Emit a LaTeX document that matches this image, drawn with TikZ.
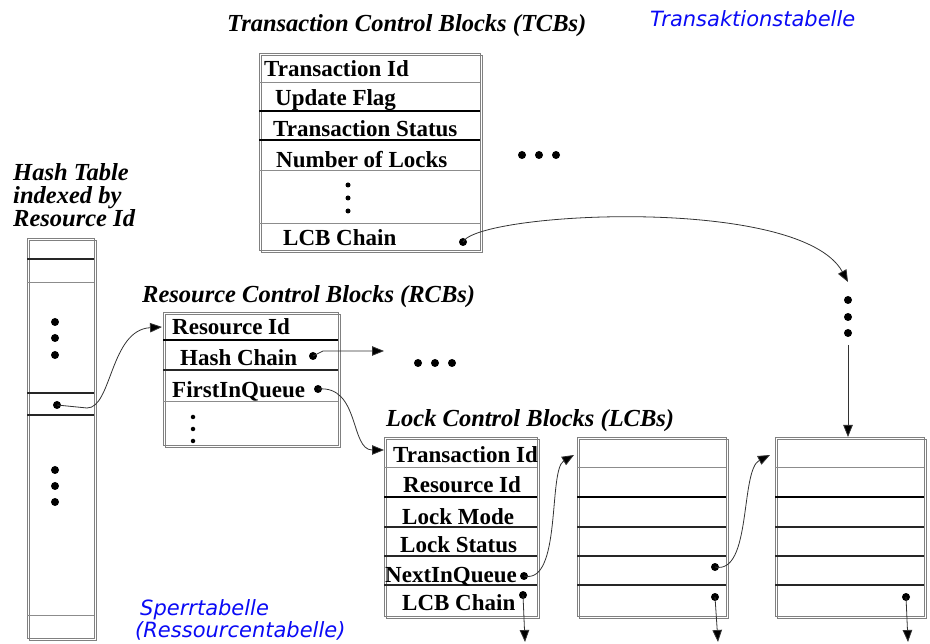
\documentclass[tikz,border=0pt]{standalone}
\usepackage{fontspec}
\setmainfont{Liberation Serif}
\newfontfamily\bluefont{DejaVu Sans}[ItalicFont={DejaVu Sans Oblique}]
\usetikzlibrary{arrows.meta}
\definecolor{noteblue}{RGB}{10,10,245}
\begin{document}
\begin{tikzpicture}[x=1pt,y=-1pt,
  blk/.style={draw=black!50, line width=0.9pt, inner sep=0pt, outer sep=0pt, anchor=north west},
  field/.style={anchor=base west, inner sep=0pt, font=\fontsize{23}{26}\selectfont\bfseries},
  heading/.style={anchor=base west, inner sep=0pt, font=\fontsize{24.5}{28}\selectfont\bfseries\itshape},
  note/.style={anchor=base west, inner sep=0pt, text=noteblue, font=\bluefont\fontsize{21}{22}\selectfont\itshape},
  ptr/.style={circle, fill=black, inner sep=0pt, minimum size=8pt},
  ell/.style={circle, fill=black, inner sep=0pt, minimum size=8pt},
  vdot/.style={circle, fill=black, inner sep=0pt, minimum size=5pt},
  link/.style={draw=black!80, line width=0.8pt, -{Triangle[length=12pt,width=9.5pt,fill=black]}},
  rowthin/.style={draw=black!45, line width=0.9pt},
  rowmid/.style={draw=black!85, line width=1.1pt},
  rowthick/.style={draw=black, line width=1.7pt}]
\useasboundingbox (0,0) rectangle (930,644);

% ---------- block frames (frame plus offset copy) ----------
\node[blk, minimum width=67pt,  minimum height=400pt] (hash) at (27,238) {};
\node[blk, minimum width=221pt, minimum height=197pt] (tcb)  at (259,53) {};
\node[blk, minimum width=175pt, minimum height=133pt] (rcb)  at (163,312) {};
\node[blk, minimum width=153pt, minimum height=179pt] (lcb1) at (384,437) {};
\node[blk, minimum width=149pt, minimum height=179pt] (lcb2) at (577,437) {};
\node[blk, minimum width=149pt, minimum height=179pt] (lcb3) at (775,437) {};
\foreach \b in {hash,tcb,rcb,lcb1,lcb2,lcb3}
  \draw[draw=black!50, line width=0.9pt]
    ([shift={(2.5,2.5)}]\b.north west) rectangle ([shift={(2.5,2.5)}]\b.south east);

% ---------- row separators ----------
\foreach \y/\s in {259/rowmid,282/rowthin,393/rowmid,415/rowmid,615/rowthin}
  \draw[\s] (27,\y) -- (94,\y);
\foreach \y/\s in {82/rowthin,111/rowthick,140/rowthick,170/rowthin,223/rowthin}
  \draw[\s] (259,\y) -- (480,\y);
\foreach \y/\s in {340/rowthick,370/rowmid,401/rowthin}
  \draw[\s] (163,\y) -- (338,\y);
\foreach \x/\w in {384/537,577/726,775/924}
  \foreach \y/\s in {467/rowthin,497/rowthick,527/rowmid,556/rowmid,585/rowmid}
    \draw[\s] (\x,\y) -- (\w,\y);

% ---------- headings ----------
\node[heading] (h-tcb) at (227,32) {Transaction Control Blocks (TCBs)};
\node[heading] (h-rcb) at (142,303) {Resource Control Blocks (RCBs)};
\node[heading] (h-lcb) at (386,427) {Lock Control Blocks (LCBs)};
\node[heading] (h-hash1) at (13,181) {Hash Table};
\node[heading] (h-hash2) at (13,204) {indexed by};
\node[heading] (h-hash3) at (13,227) {Resource Id};

% ---------- notes ----------
\node[note] (n-ta) at (650,27) {Transaktionstabelle};
\node[note] (n-sp1) at (140,615) {Sperrtabelle};
\node[note] (n-sp2) at (135,637) {(Ressourcentabelle)};

% ---------- TCB fields ----------
\node[field] (t-tid) at (264,77) {Transaction Id};
\node[field] (t-upd) at (275,106) {Update Flag};
\node[field] (t-sta) at (273,137) {Transaction Status};
\node[field] (t-num) at (276,168) {Number of Locks};
\node[field] (t-lcb) at (283,246) {LCB Chain};
\foreach \y [count=\i] in {185,198,211} \node[vdot] (t-v\i) at (348,\y) {};

% ---------- RCB fields ----------
\node[field] (r-rid) at (172,335) {Resource Id};
\node[field] (r-hc)  at (180,366) {Hash Chain};
\node[field] (r-fq)  at (172,398) {FirstInQueue};
\foreach \y [count=\i] in {417,429,441} \node[vdot, minimum size=4.5pt] (r-v\i) at (193,\y) {};

% ---------- LCB fields ----------
\node[field] (l-tid) at (393,463) {Transaction Id};
\node[field] (l-rid) at (403,493) {Resource Id};
\node[field] (l-mod) at (402,525) {Lock Mode};
\node[field] (l-sta) at (400,552) {Lock Status};
\node[field] (l-nq)  at (385,582) {NextInQueue};
\node[field] (l-lc)  at (402,610) {LCB Chain};

% ---------- ellipses ----------
\foreach \y [count=\i] in {322,338,355} \node[ell] (hash-a\i) at (55,\y) {};
\foreach \y [count=\i] in {470,486,502} \node[ell] (hash-b\i) at (55,\y) {};
\foreach \x [count=\i] in {522,539,556} \node[ell] (tcb-more\i) at (\x,155) {};
\foreach \x [count=\i] in {418,435,452} \node[ell] (rcb-more\i) at (\x,363) {};
\foreach \y [count=\i] in {300,317,333} \node[ell] (tcb-chain\i) at (848,\y) {};

% ---------- pointer dots ----------
\node[ptr] (hash-p) at (57,405) {};
\node[ptr] (tcb-p)  at (463,242) {};
\node[ptr] (rcb-h)  at (313,356) {};
\node[ptr] (rcb-f)  at (318,389) {};
\node[ptr] (l1-n)   at (524,576) {};
\node[ptr] (l1-c)   at (523,595) {};
\node[ptr] (l2-n)   at (715,567) {};
\node[ptr] (l2-c)   at (715,597) {};
\node[ptr] (l3-c)   at (906,597) {};

% ---------- connector end points ----------
\coordinate (rcb-in)  at (162,327);
\coordinate (hc-end)  at (384,351);
\coordinate (l1-in)   at (384,450);
\coordinate (l2-in)   at (574,455);
\coordinate (l3-in)   at (770,455);
\coordinate (tcb-end) at (848,282);
\coordinate (ch-from) at (848,345);
\coordinate (l1-down) at (525,642);
\coordinate (l2-down) at (718,642);
\coordinate (l3-down) at (908,642);

% ---------- connectors ----------
\draw[link] (hash-p.center) -- (87,408) .. controls (112,408) and (110,330) .. (rcb-in);
\draw[link] (rcb-h.center) -- (323,351) -- (hc-end);
\draw[link] (rcb-f.center) .. controls (360,385) and (350,450) .. (l1-in);
\draw[link] (tcb-p.center) .. controls (478,212) and (800,195) .. (tcb-end);
\draw[link] (ch-from) -- (ch-from |- lcb3.north);
\draw[link] (l1-n.center) .. controls (562,585) and (548,470) .. (l2-in);
\draw[link] (l2-n.center) .. controls (752,575) and (740,470) .. (l3-in);
\draw[link] (l1-c.center) -- (l1-down);
\draw[link] (l2-c.center) -- (l2-down);
\draw[link] (l3-c.center) -- (l3-down);
\end{tikzpicture}
\end{document}
